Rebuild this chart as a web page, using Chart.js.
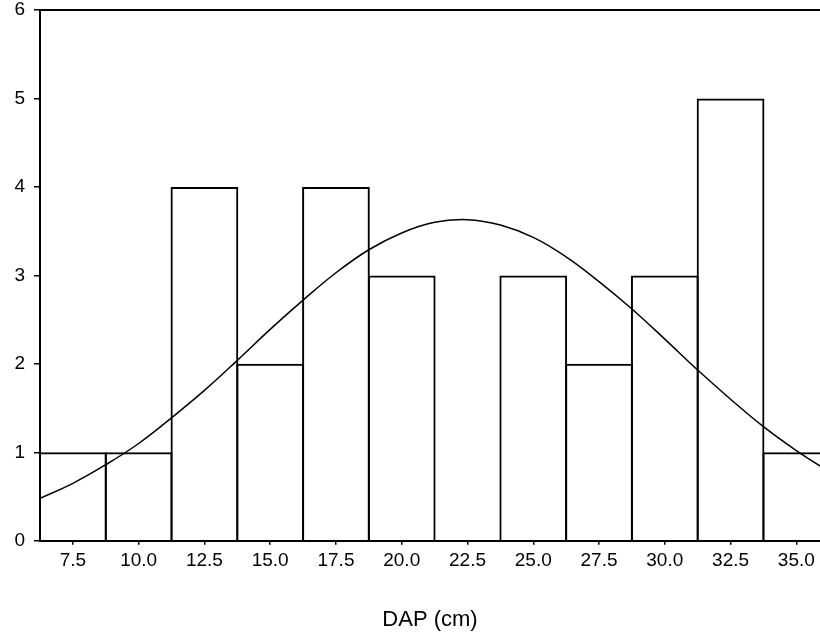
<!DOCTYPE html>
<html>
<head>
<meta charset="utf-8">
<script src="https://cdn.jsdelivr.net/npm/chart.js@4"></script>
<style>
  html, body { margin: 0; padding: 0; background: #fff; }
  #wrap { width: 820px; height: 637px; }
</style>
</head>
<body>
<div id="wrap"><canvas id="histChart" width="820" height="637"></canvas></div>
<script>
// histogram bins (centre of each DAP class, cm) and counts
const binCenters = [7.5, 10.0, 12.5, 15.0, 17.5, 20.0, 22.5, 25.0, 27.5, 30.0, 32.5, 35.0];
const counts = [1, 1, 4, 2, 4, 3, 0, 3, 2, 3, 5, 1];

// normal curve
const curveX = [6.25, 7.5, 8.75, 10.0, 11.25, 12.5, 13.75, 15.0, 16.25, 17.5, 18.75, 20.0, 21.25,
                22.5, 23.75, 25.0, 26.25, 27.5, 28.75, 30.0, 31.25, 32.5, 33.75, 35.0, 36.25];
const curveY = [0.48, 0.65, 0.86, 1.10, 1.39, 1.70, 2.04, 2.39, 2.72, 3.03, 3.29, 3.48, 3.60,
                3.63, 3.57, 3.43, 3.21, 2.93, 2.62, 2.28, 1.93, 1.60, 1.29, 1.02, 0.78];

const xTicks = [7.5, 10.0, 12.5, 15.0, 17.5, 20.0, 22.5, 25.0, 27.5, 30.0, 32.5, 35.0];
const yTicks = [0, 1, 2, 3, 4, 5, 6];

const fontFamily = "'Liberation Sans', Arial, sans-serif";
const black = "#000";

// top frame line across the plot
const topFrame = {
  id: 'topFrame',
  afterDraw(chart) {
    const { ctx, chartArea } = chart;
    ctx.save();
    ctx.strokeStyle = black;
    ctx.lineWidth = 2;
    ctx.beginPath();
    ctx.moveTo(chartArea.left - 1, chartArea.top);
    ctx.lineTo(chartArea.right, chartArea.top);
    ctx.stroke();
    ctx.restore();
  }
};

const ctx = document.getElementById('histChart').getContext('2d');

new Chart(ctx, {
  data: {
    datasets: [
      {
        type: 'line',
        data: curveX.map((x, i) => ({ x: x, y: curveY[i] })),
        borderColor: black,
        borderWidth: 1.5,
        pointRadius: 0,
        tension: 0.4,
        fill: false
      },
      {
        type: 'bar',
        data: binCenters.map((x, i) => ({ x: x, y: counts[i] })),
        backgroundColor: 'rgba(0,0,0,0)',
        borderColor: black,
        borderWidth: 2,
        barPercentage: 1.03, // overlap neighbours so shared edges stay single width
        categoryPercentage: 1.0
      }
    ]
  },
  options: {
    responsive: false,
    animation: false,
    layout: { padding: 0 },
    plugins: {
      legend: { display: false },
      tooltip: { enabled: false }
    },
    scales: {
      x: {
        type: 'linear',
        position: 'bottom',
        offset: false,
        min: 6.25,
        max: 35.9,
        afterBuildTicks: (axis) => { axis.ticks = xTicks.map(v => ({ value: v })); },
        border: { display: true, color: black, width: 2 },
        grid: { offset: false, drawOnChartArea: false, drawTicks: true, tickLength: 4, tickColor: black, lineWidth: 1.5 },
        ticks: {
          color: black,
          padding: 5,
          maxRotation: 0,
          autoSkip: false,
          font: { family: fontFamily, size: 19 },
          callback: (v) => Number(v).toFixed(1)
        },
        title: {
          display: true,
          text: 'DAP (cm)',
          color: black,
          font: { family: fontFamily, size: 22 },
          padding: { top: 29, bottom: 4 }
        }
      },
      y: {
        min: 0,
        max: 6,
        afterBuildTicks: (axis) => { axis.ticks = yTicks.map(v => ({ value: v })); },
        afterFit: (axis) => {
          axis.width = 40;
          axis.paddingTop = 10;
          axis.paddingBottom = 0;
        },
        border: { display: true, color: black, width: 2 },
        grid: { drawOnChartArea: false, drawTicks: true, tickLength: 6, tickColor: black, lineWidth: 1.5 },
        ticks: {
          color: black,
          padding: 9,
          font: { family: fontFamily, size: 19, lineHeight: 1 }
        }
      }
    }
  },
  plugins: [topFrame]
});
</script>
</body>
</html>
